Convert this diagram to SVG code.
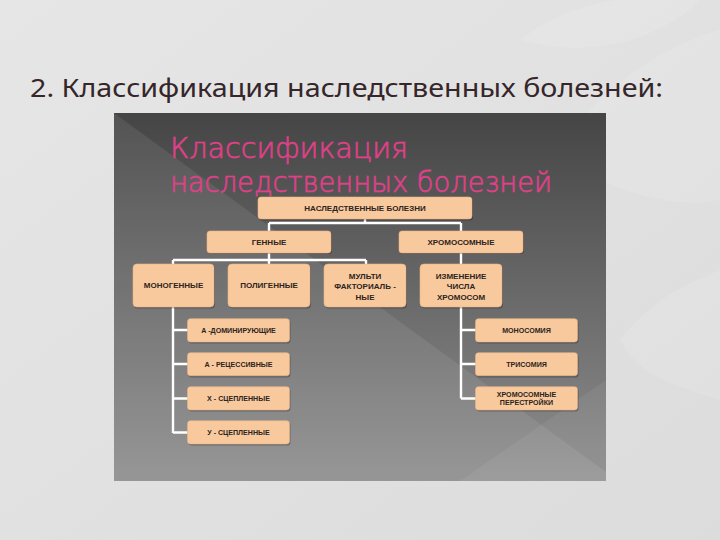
<svg xmlns="http://www.w3.org/2000/svg" width="720" height="540" viewBox="0 0 720 540">
<defs>
<linearGradient id="bg" x1="0" y1="0" x2="1" y2="1">
<stop offset="0" stop-color="#e6e6e6"/><stop offset="1" stop-color="#dcdcdc"/>
</linearGradient>
<linearGradient id="panel" x1="0" y1="0" x2="0" y2="1">
<stop offset="0" stop-color="#454545"/><stop offset="1" stop-color="#8e8e8e"/>
</linearGradient>
<style>
.box{fill:#f9c99e;stroke:#e9b385;stroke-width:0.6}
.sh{fill:#000;opacity:0.25}
.t{font-family:"Liberation Sans",Arial,sans-serif;font-weight:bold;font-size:8px;fill:#2b2420;text-anchor:middle}
.s{font-size:7.1px}
.c{fill:none;stroke:#ffffff;stroke-width:2.4}
.pk{font-family:"DejaVu Sans","Noto Sans",sans-serif;font-weight:200;font-size:28px;fill:#e0408a;stroke:#e0408a;stroke-width:0.6}
</style>
</defs>
<rect width="720" height="540" fill="url(#bg)"/>
<g fill="#ffffff" opacity="0.1">
<path d="M560 150 C600 80 680 40 720 30 L720 200 C670 210 600 190 560 150Z"/>
<path d="M520 40 C570 0 640 -10 700 0 C660 40 590 60 520 40Z"/>
<path d="M620 340 C660 290 700 280 720 270 L720 400 C690 390 640 380 620 340Z"/>
</g>
<text x="30" y="97" font-family="'Noto Sans','Open Sans',sans-serif" font-size="26" fill="#35262a" textLength="633" lengthAdjust="spacingAndGlyphs">2. Классификация наследственных болезней:</text>
<g id="panel-bg">
<rect x="114" y="113" width="492" height="368" fill="url(#panel)"/>
<polygon points="114,113 606,472 606,481 114,481" fill="#ffffff" opacity="0.08"/>
<polygon points="606,380 606,481 460,481" fill="#ffffff" opacity="0.06"/>
</g>
<text class="pk" x="170" y="158" textLength="238" lengthAdjust="spacingAndGlyphs">Классификация</text>
<text class="pk" x="170" y="192" textLength="382" lengthAdjust="spacingAndGlyphs">наследственных болезней</text>
<g id="connectors">
<path class="c" d="M365 219 V223 M269 223 H461 M269 223 V231 M461 223 V231"/>
<path class="c" d="M269 252 V260 M173 260 H366 M173 260 V264 M269 260 V264 M366 260 V264"/>
<path class="c" d="M461 252 V264"/>
<path class="c" d="M173 307 V433 M173 330 H188 M173 364 H188 M173 398.5 H188 M173 432.5 H188"/>
<path class="c" d="M461 307 V398.5 M461 330 H476 M461 364 H476 M461 398.5 H476"/>
</g>
<g id="n-root"><rect class="sh" x="259" y="198.5" width="214" height="22" rx="3"/><rect class="box" x="258" y="197" width="214" height="22" rx="3"/><text class="t" x="365" y="210.8">НАСЛЕДСТВЕННЫЕ БОЛЕЗНИ</text></g>
<g id="n-gen"><rect class="sh" x="208" y="232" width="124" height="22" rx="3"/><rect class="box" x="207" y="231" width="124" height="22" rx="3"/><text class="t" x="269" y="244.8">ГЕННЫЕ</text></g>
<g id="n-chrom"><rect class="sh" x="400" y="232" width="124" height="22" rx="3"/><rect class="box" x="399" y="231" width="124" height="22" rx="3"/><text class="t" x="461" y="244.8">ХРОМОСОМНЫЕ</text></g>
<g id="n-mono"><rect class="sh" x="134" y="265.5" width="81" height="43" rx="4"/><rect class="box" x="133" y="264" width="81" height="43" rx="4"/><text class="t" x="173.5" y="288.4">МОНОГЕННЫЕ</text></g>
<g id="n-poly"><rect class="sh" x="229" y="265.5" width="82" height="43" rx="4"/><rect class="box" x="228" y="264" width="82" height="43" rx="4"/><text class="t" x="269" y="288.4">ПОЛИГЕННЫЕ</text></g>
<g id="n-multi"><rect class="sh" x="325" y="265.5" width="82" height="43" rx="4"/><rect class="box" x="324" y="264" width="82" height="43" rx="4"/><text class="t" x="365" y="278.8">МУЛЬТИ</text><text class="t" x="365" y="289.2">ФАКТОРИАЛЬ -</text><text class="t" x="365" y="299.6">НЫЕ</text></g>
<g id="n-change"><rect class="sh" x="421" y="265.5" width="82" height="43" rx="4"/><rect class="box" x="420" y="264" width="82" height="43" rx="4"/><text class="t" x="461" y="278.8">ИЗМЕНЕНИЕ</text><text class="t" x="461" y="289.2">ЧИСЛА</text><text class="t" x="461" y="299.6">ХРОМОСОМ</text></g>
<g id="n-adom"><rect class="sh" x="188.5" y="320" width="102" height="23.5" rx="3"/><rect class="box" x="187.5" y="318.7" width="102" height="23.3" rx="3"/><text class="t s" x="238.5" y="332.8">А -ДОМИНИРУЮЩИЕ</text></g>
<g id="n-arec"><rect class="sh" x="188.5" y="354" width="102" height="23.5" rx="3"/><rect class="box" x="187.5" y="352.7" width="102" height="23" rx="3"/><text class="t s" x="238.5" y="366.7">А - РЕЦЕССИВНЫЕ</text></g>
<g id="n-x"><rect class="sh" x="188.5" y="388" width="102" height="23.5" rx="3"/><rect class="box" x="187.5" y="386.7" width="102" height="23.3" rx="3"/><text class="t s" x="238.5" y="400.8">Х - СЦЕПЛЕННЫЕ</text></g>
<g id="n-y"><rect class="sh" x="188.5" y="422" width="102" height="23.5" rx="3"/><rect class="box" x="187.5" y="420.7" width="102" height="23.3" rx="3"/><text class="t s" x="238.5" y="434.8">У - СЦЕПЛЕННЫЕ</text></g>
<g id="n-monos"><rect class="sh" x="476.5" y="320" width="102" height="23.5" rx="3"/><rect class="box" x="475.5" y="318.7" width="102" height="23.3" rx="3"/><text class="t s" x="526.5" y="332.8">МОНОСОМИЯ</text></g>
<g id="n-tris"><rect class="sh" x="476.5" y="354" width="102" height="23.5" rx="3"/><rect class="box" x="475.5" y="352.7" width="102" height="23" rx="3"/><text class="t s" x="526.5" y="366.7">ТРИСОМИЯ</text></g>
<g id="n-rearr"><rect class="sh" x="476.5" y="388" width="102" height="23.5" rx="3"/><rect class="box" x="475.5" y="386.7" width="102" height="23.3" rx="3"/><text class="t s" x="526.5" y="396.6">ХРОМОСОМНЫЕ</text><text class="t s" x="526.5" y="404.8">ПЕРЕСТРОЙКИ</text></g>
</svg>
